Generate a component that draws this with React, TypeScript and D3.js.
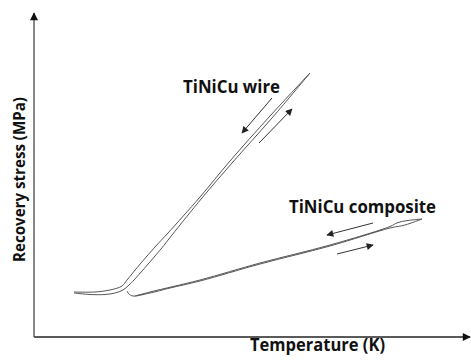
import React from "react";
import * as d3 from "d3";

// Arbitrary units (no ticks on the original chart)
const xDomain = [0, 436];
const yDomain = [0, 324];

const wireCoolingT = [40, 61, 76, 88, 93, 107, 121, 134, 166, 196, 236, 276];
const wireCoolingS = [45, 45, 47, 51, 57, 74, 90, 104, 140, 176, 221, 264];

const wireHeatingT = [40, 56, 71, 81, 89, 95, 100, 115, 127, 138, 168, 198, 238, 276];
const wireHeatingS = [44, 42.5, 42.5, 44, 47, 52, 57, 74, 88, 102, 139, 174, 219, 264];

const compHeatingT = [93, 95, 99, 116, 136, 166, 226, 296, 356, 371, 388];
const compHeatingS = [46, 43, 41, 44, 49, 56, 73, 91, 109, 112, 118];

const compCoolingT = [388, 374, 364, 356, 296, 226, 166, 116, 101];
const compCoolingS = [118, 116.5, 114.5, 110.5, 92, 74, 57, 45, 41];

// arrows: [t0, s0, t1, s1]
const arrows = [
  [238, 239, 208, 204],
  [225, 194, 258, 228],
  [339, 114, 293, 102],
  [303, 83, 339, 92],
];

const labels = ["TiNiCu wire", "TiNiCu composite"];
const xTitle = "Temperature (K)";
const yTitle = "Recovery stress (MPa)";

export default function App() {
  const W = 471;
  const H = 361;
  const x = d3.scaleLinear().domain(xDomain).range([34, 470]);
  const y = d3.scaleLinear().domain(yDomain).range([337, 13]);

  const line = d3
    .line<[number, number]>()
    .x((d) => x(d[0]))
    .y((d) => y(d[1]))
    .curve(d3.curveCatmullRom.alpha(0.5));

  const zip = (a: number[], b: number[]) => a.map((v, i) => [v, b[i]] as [number, number]);

  const series = [
    zip(wireCoolingT, wireCoolingS),
    zip(wireHeatingT, wireHeatingS),
    zip(compHeatingT, compHeatingS),
    zip(compCoolingT, compCoolingS),
  ];

  const font = "'Open Sans', 'DejaVu Sans', sans-serif";

  return (
    <svg
      width={W}
      height={H}
      style={{ position: "absolute", left: 0, top: 0, background: "#fff" }}
    >
      <defs>
        <marker
          id="ah"
          viewBox="0 0 10 10"
          refX="9"
          refY="5"
          markerWidth="8"
          markerHeight="7"
          markerUnits="userSpaceOnUse"
          orient="auto"
        >
          <path d="M0,0 L10,5 L0,10 z" fill="#222" />
        </marker>
        <marker
          id="axh"
          viewBox="0 0 10 10"
          refX="9"
          refY="5"
          markerWidth="9"
          markerHeight="8"
          markerUnits="userSpaceOnUse"
          orient="auto"
        >
          <path d="M0,0 L10,5 L0,10 z" fill="#111" />
        </marker>
      </defs>
      <rect width={W} height={H} fill="#fff" />

      {/* axes */}
      <line
        x1={x(0)}
        y1={y(0)}
        x2={x(0)}
        y2={y(yDomain[1])}
        stroke="#7a7a7a"
        strokeWidth={1.8}
        markerEnd="url(#axh)"
      />
      <line
        x1={x(0)}
        y1={y(0)}
        x2={x(xDomain[1])}
        y2={y(0)}
        stroke="#5a5a5a"
        strokeWidth={1.8}
        markerEnd="url(#axh)"
      />

      {/* curves */}
      {series.map((s, i) => (
        <path key={i} d={line(s) || ""} fill="none" stroke="#444" strokeWidth={0.9} />
      ))}

      {/* arrows */}
      {arrows.map((a, i) => (
        <line
          key={i}
          x1={x(a[0])}
          y1={y(a[1])}
          x2={x(a[2])}
          y2={y(a[3])}
          stroke="#333"
          strokeWidth={1}
          markerEnd="url(#ah)"
        />
      ))}

      {/* labels */}
      <text
        x={183}
        y={93}
        fontFamily={font}
        fontWeight="bold"
        fontSize={17}
        textLength={97}
        lengthAdjust="spacingAndGlyphs"
        fill="#111"
      >
        {labels[0]}
      </text>
      <text
        x={289}
        y={213}
        fontFamily={font}
        fontWeight="bold"
        fontSize={17}
        textLength={147}
        lengthAdjust="spacingAndGlyphs"
        fill="#111"
      >
        {labels[1]}
      </text>
      <text
        x={250}
        y={351}
        fontFamily={font}
        fontWeight="bold"
        fontSize={17}
        textLength={135}
        lengthAdjust="spacingAndGlyphs"
        fill="#111"
      >
        {xTitle}
      </text>
      <text
        transform={`translate(24.5,${262}) rotate(-90)`}
        x={0}
        y={0}
        fontFamily={font}
        fontWeight="bold"
        fontSize={16.5}
        textLength={165}
        lengthAdjust="spacingAndGlyphs"
        fill="#111"
      >
        {yTitle}
      </text>
    </svg>
  );
}
